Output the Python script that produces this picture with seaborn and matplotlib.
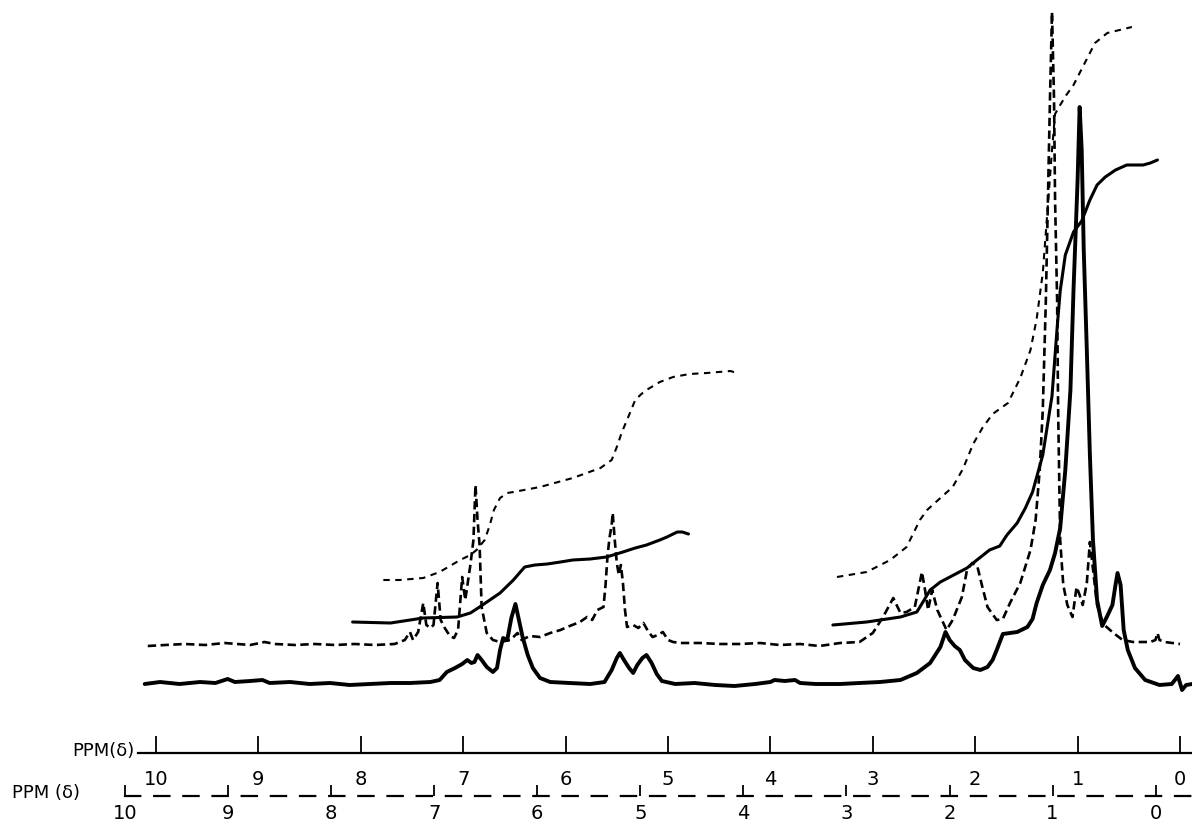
import matplotlib
matplotlib.use("Agg")
import matplotlib.pyplot as plt
import seaborn as sns
import numpy as np

# ---------------- data (chemical shift in ppm, intensity in arbitrary units) ----------------
solid_ppm = [10.11, 9.96, 9.77, 9.57, 9.42, 9.30, 9.23, 9.08, 8.96, 8.89, 8.69, 8.50, 8.30, 8.11,
             7.91, 7.71, 7.52, 7.32, 7.23, 7.16, 7.08, 7.01, 6.96, 6.92, 6.89, 6.86, 6.82, 6.77,
             6.71, 6.67, 6.64, 6.61, 6.57, 6.53, 6.49, 6.46, 6.42, 6.37, 6.32, 6.25, 6.15, 5.96,
             5.76, 5.62, 5.55, 5.50, 5.47, 5.43, 5.38, 5.34, 5.30, 5.25, 5.21, 5.16, 5.11, 5.06,
             4.93, 4.74, 4.54, 4.35, 4.15, 4.00, 3.96, 3.86, 3.76, 3.71, 3.56, 3.32, 3.13, 2.93,
             2.73, 2.57, 2.44, 2.34, 2.29, 2.25, 2.20, 2.15, 2.10, 2.02, 1.95, 1.88, 1.83, 1.79,
             1.73, 1.66, 1.59, 1.49, 1.44, 1.40, 1.34, 1.27, 1.22, 1.17, 1.12, 1.07, 1.04, 1.00,
             0.98, 0.96, 0.94, 0.91, 0.88, 0.85, 0.81, 0.76, 0.71, 0.66, 0.63, 0.61, 0.58, 0.55,
             0.51, 0.44, 0.34, 0.20, 0.08, 0.02, -0.02, -0.06, -0.12]
solid_int = [-1, 1, -1, 1, 0, 4, 1, 2, 3, 0, 1, -1, 0, -2,
             -1, 0, 0, 1, 3, 11, 15, 19, 23, 20, 21, 28, 23, 16,
             11, 15, 33, 45, 43, 65, 79, 65, 46, 28, 15, 5, 1, 0,
             -1, 1, 13, 25, 30, 23, 15, 10, 18, 25, 28, 20, 9, 2,
             -1, 0, -2, -3, -1, 1, 3, 2, 3, 0, -1, -1, 0, 1,
             3, 10, 20, 36, 51, 43, 37, 33, 23, 15, 13, 16, 23, 33,
             49, 50, 51, 56, 64, 80, 98, 113, 130, 155, 213, 293, 393, 503,
             576, 533, 433, 333, 228, 143, 83, 57, 67, 78, 98, 110, 98, 53,
             33, 15, 3, -2, -1, 7, -7, -2, -1]

dashed_ppm = [10.08, 9.91, 9.72, 9.52, 9.33, 9.08, 8.94, 8.84, 8.64, 8.45, 8.25, 8.06, 7.86, 7.67,
              7.57, 7.52, 7.49, 7.44, 7.39, 7.36, 7.32, 7.29, 7.25, 7.22, 7.18, 7.13, 7.09, 7.05,
              7.01, 6.98, 6.93, 6.90, 6.88, 6.86, 6.84, 6.82, 6.77, 6.71, 6.64, 6.54, 6.47, 6.43,
              6.35, 6.25, 6.15, 6.05, 5.96, 5.86, 5.79, 5.74, 5.69, 5.63, 5.61, 5.59, 5.57, 5.55,
              5.54, 5.52, 5.50, 5.48, 5.46, 5.44, 5.42, 5.40, 5.34, 5.29, 5.24, 5.19, 5.15, 5.10,
              5.05, 5.00, 4.95, 4.88, 4.69, 4.49, 4.30, 4.10, 3.91, 3.71, 3.52, 3.32, 3.13, 3.00,
              2.90, 2.80, 2.73, 2.67, 2.59, 2.52, 2.49, 2.46, 2.42, 2.37, 2.28, 2.22, 2.13, 2.08,
              2.03, 1.98, 1.93, 1.88, 1.79, 1.73, 1.66, 1.56, 1.46, 1.41, 1.37, 1.34, 1.31, 1.29,
              1.27, 1.25, 1.23, 1.22, 1.20, 1.19, 1.17, 1.14, 1.10, 1.05, 1.01, 0.98, 0.95, 0.91,
              0.88, 0.85, 0.81, 0.75, 0.65, 0.56, 0.46, 0.29, 0.24, 0.22, 0.20, 0.15, 0.00]
dashed_int = [37, 38, 39, 38, 40, 38, 41, 39, 38, 39, 38, 39, 38, 39,
              43, 51, 43, 51, 80, 58, 55, 58, 100, 63, 55, 47, 45, 53,
              106, 83, 118, 143, 198, 163, 138, 76, 50, 43, 41, 43, 50, 43,
              47, 46, 50, 53, 57, 61, 66, 63, 73, 76, 98, 128, 146, 158,
              170, 143, 120, 108, 118, 100, 73, 56, 58, 55, 60, 51, 46, 48,
              51, 43, 41, 40, 40, 39, 39, 40, 38, 39, 37, 40, 41, 50,
              66, 85, 70, 71, 76, 111, 93, 73, 93, 73, 53, 63, 86, 113,
              120, 117, 96, 76, 63, 64, 80, 100, 133, 163, 213, 273, 383, 483,
              583, 671, 583, 483, 383, 273, 143, 98, 78, 66, 96, 88, 78, 100,
              141, 114, 78, 59, 50, 43, 41, 41, 43, 50, 43, 41, 39]

# integral traces
solid_integral1_ppm = [8.08, 7.71, 7.39, 7.06, 6.93, 6.84, 6.74, 6.64, 6.51, 6.40, 6.30, 6.18,
                       6.05, 5.93, 5.76, 5.60, 5.44, 5.32, 5.21, 5.08, 5.01, 4.91, 4.86, 4.80]
solid_integral1 = [61, 60, 65, 66, 70, 76, 83, 90, 103, 116, 118, 119,
                   121, 123, 124, 126, 131, 135, 138, 143, 146, 151, 151, 149]

solid_integral2_ppm = [3.39, 3.06, 2.73, 2.57, 2.54, 2.44, 2.34, 2.08, 2.02, 1.86, 1.76, 1.69,
                       1.59, 1.51, 1.44, 1.34, 1.25, 1.20, 1.17, 1.12, 1.04, 0.96, 0.88, 0.81,
                       0.73, 0.63, 0.52, 0.36, 0.29, 0.22]
solid_integral2 = [58, 61, 66, 71, 76, 93, 101, 115, 120, 133, 137, 148,
                   160, 175, 191, 228, 287, 355, 392, 428, 451, 462, 483, 498,
                   506, 513, 518, 518, 520, 523]

dashed_integral1_ppm = [7.78, 7.62, 7.39, 7.23, 7.03, 6.93, 6.87, 6.79, 6.74, 6.70, 6.64, 6.57,
                        6.51, 6.25, 5.93, 5.66, 5.55, 5.50, 5.45, 5.40, 5.32, 5.26, 5.21, 5.08,
                        4.95, 4.79, 4.62, 4.39, 4.33]
dashed_integral1 = [103, 103, 105, 111, 123, 128, 133, 143, 158, 173, 185, 190,
                    191, 196, 205, 215, 223, 236, 251, 263, 283, 289, 293, 301,
                    306, 309, 310, 312, 310]

dashed_integral2_ppm = [3.35, 3.06, 2.83, 2.67, 2.54, 2.47, 2.34, 2.22, 2.12, 2.02, 1.93, 1.83,
                        1.68, 1.56, 1.46, 1.40, 1.34, 1.29, 1.25, 1.22, 1.17, 1.11, 1.04, 0.95,
                        0.83, 0.71, 0.59, 0.47]
dashed_integral2 = [106, 111, 123, 136, 163, 173, 185, 196, 214, 239, 255, 269,
                    280, 305, 333, 364, 410, 478, 533, 569, 578, 588, 598, 616,
                    640, 650, 653, 656]

scale_ticks = [10, 9, 8, 7, 6, 5, 4, 3, 2, 1, 0]
scale_labels = ["10", "9", "8", "7", "6", "5", "4", "3", "2", "1", "0"]
axis_title_upper = "PPM(\u03b4)"
axis_title_lower = "PPM (\u03b4)"

# ---------------- style ----------------
sns.set_style("white")
plt.rcParams["font.family"] = ["DejaVu Sans"]
plt.rcParams["lines.scale_dashes"] = False
plt.rcParams["xtick.bottom"] = True

W, H = 1192, 822
fig = plt.figure(figsize=(W / 100, H / 100), dpi=100)
fig.patch.set_facecolor("white")

# main spectrum area (full figure); pixel mapping x = 1180 - 102.4*ppm
ppm_left = 1180 / 102.4
ppm_right = (1180 - W) / 102.4
ax = fig.add_axes([0, 0, 1, 1])
ax.set_xlim(ppm_left, ppm_right)
ax.set_ylim(683 - H, 683)
ax.axis("off")

dash_spec = (0, (6.0, 3.2))
dash_int = (0, (4.6, 4.0))

sns.lineplot(x=solid_ppm, y=solid_int, ax=ax, color="black", lw=2.8,
             sort=False, estimator=None)
sns.lineplot(x=dashed_ppm, y=dashed_int, ax=ax, color="black", lw=1.9,
             sort=False, estimator=None, linestyle=dash_spec)
sns.lineplot(x=solid_integral1_ppm, y=solid_integral1, ax=ax, color="black", lw=2.2,
             sort=False, estimator=None)
sns.lineplot(x=solid_integral2_ppm, y=solid_integral2, ax=ax, color="black", lw=2.2,
             sort=False, estimator=None)
sns.lineplot(x=dashed_integral1_ppm, y=dashed_integral1, ax=ax, color="black", lw=1.5,
             sort=False, estimator=None, linestyle=dash_int)
sns.lineplot(x=dashed_integral2_ppm, y=dashed_integral2, ax=ax, color="black", lw=1.5,
             sort=False, estimator=None, linestyle=dash_int)

# ---------------- upper ppm ruler (solid) ----------------
x0 = 138
ax1 = fig.add_axes([x0 / W, (H - 753) / H, (W - x0) / W, 0.0005])
ax1.set_xlim((1180 - x0) / 102.4, ppm_right)
ax1.set_ylim(0, 1)
for s in ["top", "left", "right"]:
    ax1.spines[s].set_visible(False)
ax1.spines["bottom"].set_linewidth(1.6)
ax1.spines["bottom"].set_color("black")
ax1.set_yticks([])
ax1.set_xticks(scale_ticks)
ax1.set_xticklabels(scale_labels)
ax1.tick_params(axis="x", bottom=True, direction="in", length=12, width=1.3, pad=12,
                labelsize=14, colors="black")
ax1.patch.set_alpha(0)
fig.text(135 / W, (H - 751) / H, axis_title_upper, ha="right", va="center",
         fontsize=13, color="black")

# ---------------- lower ppm ruler (dashed) ----------------
x0b = 125
slope_b, off_b = 103.05, 1155.6
ax2 = fig.add_axes([x0b / W, (H - 796) / H, (W - x0b) / W, 0.0005])
ax2.set_xlim((off_b - x0b) / slope_b, (off_b - W) / slope_b)
ax2.set_ylim(0, 1)
for s in ["top", "left", "right"]:
    ax2.spines[s].set_visible(False)
ax2.spines["bottom"].set_linewidth(1.6)
ax2.spines["bottom"].set_color("black")
ax2.spines["bottom"].set_linestyle((0, (11, 10)))
ax2.set_yticks([])
ax2.set_xticks(scale_ticks)
ax2.set_xticklabels(scale_labels)
ax2.tick_params(axis="x", bottom=True, direction="in", length=8, width=1.3, pad=6,
                labelsize=14, colors="black")
ax2.patch.set_alpha(0)
fig.text(12 / W, (H - 793) / H, axis_title_lower, ha="left", va="center",
         fontsize=13, color="black")

fig.savefig("out.png", dpi=100, facecolor="white")
